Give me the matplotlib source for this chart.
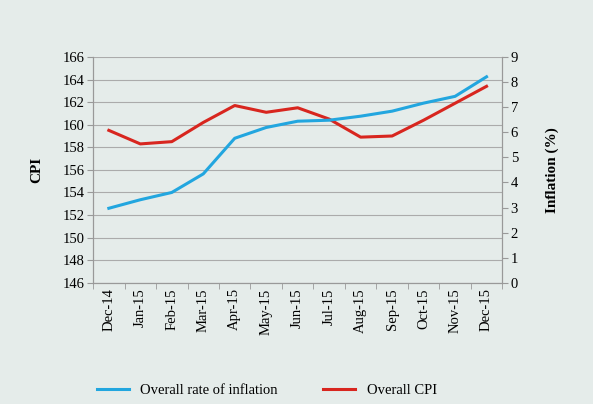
import matplotlib
matplotlib.use("Agg")
import matplotlib.pyplot as plt
import numpy as np

months = ['Dec-14', 'Jan-15', 'Feb-15', 'Mar-15', 'Apr-15', 'May-15', 'Jun-15',
          'Jul-15', 'Aug-15', 'Sep-15', 'Oct-15', 'Nov-15', 'Dec-15']
# overall CPI
cpi = [159.5, 158.3, 158.5, 160.2, 161.7, 161.1, 161.5,
       160.5, 158.9, 159.0, 160.4, 161.9, 163.4]
# overall rate of inflation (%)
inflation = [2.97, 3.31, 3.60, 4.34, 5.76, 6.19, 6.44,
             6.48, 6.64, 6.84, 7.16, 7.43, 8.21]

bg = '#e5ecea'
serif = ['Liberation Serif', 'DejaVu Serif']
plt.rcParams['font.family'] = serif

fig = plt.figure(figsize=(5.93, 4.04), dpi=100, facecolor=bg)
ax = fig.add_axes([0.157, 0.300, 0.690, 0.559])
ax.set_facecolor(bg)
ax2 = ax.twinx()

x = np.arange(len(months))
ax.plot(x, cpi, color='#d8261f', linewidth=2.2, zorder=3)
ax2.plot(x, inflation, color='#22a6df', linewidth=2.2, zorder=3)

ax.set_ylim(146, 166)
ax.set_yticks(range(146, 167, 2))
ax2.set_ylim(0, 9)
ax2.set_yticks(range(0, 10))
ax.set_xlim(-0.5, 12.5)
ax.set_xticks(x)
ax.set_xticklabels(months, rotation=90, fontsize=10.5)
ax.set_xticks(np.arange(-0.5, 13, 1), minor=True)
ax.tick_params(axis='x', which='major', length=0, pad=4)
ax.tick_params(axis='x', which='minor', length=4, color='#999999')
ax.tick_params(axis='y', labelsize=10.5, length=4, color='#999999', pad=2)
ax2.tick_params(axis='y', labelsize=10.5, length=4, color='#999999', pad=2)

ax.grid(axis='y', color='#ababab', linewidth=0.8)
for a in (ax, ax2):
    a.spines['top'].set_visible(False)
    for s in ('left', 'right', 'bottom'):
        a.spines[s].set_color('#999999')
        a.spines[s].set_linewidth(0.8)

ax.set_ylabel('CPI', fontsize=11, fontweight='bold', labelpad=14)
ax2.set_ylabel('Inflation (%)', fontsize=11, fontweight='bold', labelpad=20)

h1 = plt.Line2D([], [], color='#22a6df', linewidth=2.2)
h2 = plt.Line2D([], [], color='#d8261f', linewidth=2.2)
fig.legend([h1, h2], ['Overall rate of inflation', 'Overall CPI'],
           loc='lower center', bbox_to_anchor=(0.45, -0.015), ncol=2,
           frameon=False, fontsize=10.5, handlelength=2.2, columnspacing=3.1)

plt.savefig('out.png', dpi=100, facecolor=bg)
